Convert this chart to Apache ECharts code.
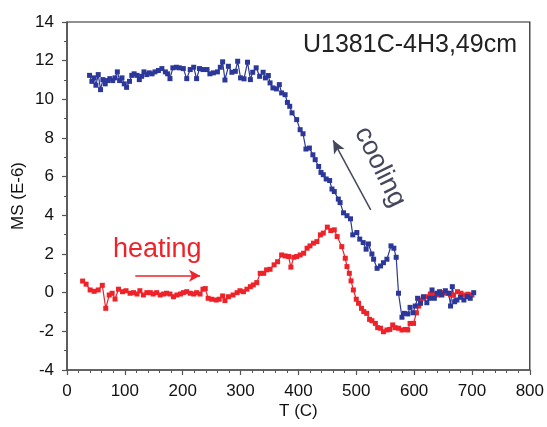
<!DOCTYPE html>
<html>
<head>
<meta charset="utf-8">
<script src="https://cdn.jsdelivr.net/npm/echarts@6/dist/echarts.min.js"></script>
<style>
  html, body { margin: 0; padding: 0; background: #fff; }
  #main { width: 547px; height: 427px; }
</style>
</head>
<body>
<div id="main"></div>
<script>
// heating curve [T (C), MS (E-6)]
var heating = [
  [27,0.6],[33,0.44],[40,0.14],[47,0.07],[54,0.14],[61,0.38],[67,-0.81],[73,-0.12],[78,-0.03],[83,-0.33],
  [89,0.18],[96,0.05],[102,0.1],[109,-0.03],[115,0],[121,-0.07],[126,0.1],[132,-0.12],[138,0],[144,0],
  [149,-0.07],[155,0],[161,-0.12],[167,-0.07],[172,-0.03],[178,-0.07],[184,-0.21],[190,-0.12],[196,-0.07],[201,0],
  [207,0.05],[213,-0.03],[219,-0.07],[224,0],[230,-0.07],[235,0.18],[239,0.21],[244,-0.29],[250,-0.34],[258,-0.38],
  [263,-0.34],[269,-0.17],[273,-0.41],[279,-0.21],[287,-0.12],[294,0],[299,0.1],[305,0.05],[311,0.18],[317,0.31],
  [322,0.4],[328,0.52],[334,1.0],[340,1.0],[345,1.18],[351,1.21],[358,1.44],[364,1.6],[371,1.95],[377,1.9],
  [383,1.87],[387,1.32],[392,1.83],[397,1.87],[403,1.95],[409,2.04],[415,2.3],[420,2.42],[426,2.56],[432,2.64],
  [438,2.99],[443,3.08],[450,3.39],[456,3.21],[462,3.25],[467,2.9],[475,2.38],[481,1.78],[484,1.35],[488,1.0],
  [491,0.61],[495,0.14],[500,-0.34],[504,-0.55],[509,-0.81],[513,-0.98],[518,-1.07],[523,-1.38],[527,-1.45],[533,-1.59],
  [537,-1.81],[542,-1.84],[547,-2.02],[553,-1.93],[558,-1.9],[563,-1.67],[567,-1.81],[573,-1.84],[579,-1.93],[585,-1.9],
  [589,-1.93],[593,-1.59],[599,-1.59],[604,-1.04],[608,-0.69],[611,-0.38],[616,-0.29],[623,-0.21],[628,-0.07],[635,-0.07],
  [641,-0.12],[645,-0.03],[651,0],[657,-0.03],[663,-0.12],[668,-0.12],[675,0.05],[681,-0.03],[687,-0.12],[693,-0.08],
  [700,-0.12]
];

// cooling curve [T (C), MS (E-6)]
var cooling = [
  [703,0],[697,-0.29],[692,-0.21],[686,-0.38],[680,-0.24],[674,-0.38],[670,-0.47],[666,0.31],[663,-0.69],[660,-0.03],
  [654,0.1],[648,-0.12],[644,0.05],[640,-0.03],[635,-0.29],[631,0.14],[627,-0.29],[622,-0.52],[616,-0.21],[611,-0.55],
  [606,-0.29],[602,-0.69],[598,-1.04],[593,-0.76],[589,-1.1],[583,-1.07],[579,-1.27],[573,-0.03],[569,1.83],[565,2.3],
  [560,2.42],[553,1.73],[547,1.55],[542,1.38],[536,1.26],[530,1.73],[527,2.0],[521,2.52],[517,2.25],[512,2.59],
  [506,2.77],[501,3.11],[494,2.99],[490,3.82],[484,3.98],[478,4.13],[472,4.66],[469,4.84],[462,5.23],[458,5.36],
  [454,5.8],[448,5.88],[443,6.1],[439,6.22],[435,6.53],[429,6.88],[425,7.13],[419,7.48],[413,7.43],[408,8.22],
  [403,8.43],[397,8.95],[389,9.3],[385,9.64],[381,9.84],[377,10.24],[371,10.33],[367,10.76],[362,10.54],[356,10.59],
  [351,10.85],[348,11.23],[343,11.11],[339,11.4],[333,11.19],[327,11.63],[321,11.4],[317,11.02],[312,11.92],[306,11.06],
  [300,11.11],[295,11.97],[291,11.45],[285,11.4],[279,11.71],[273,11.0],[269,11.94],[265,11.66],[260,11.42],[253,11.37],
  [247,11.32],[242,11.54],[235,11.54],[229,11.59],[224,11.07],[219,11.66],[213,11.54],[207,11.07],[201,11.59],[194,11.63],
  [189,11.66],[183,11.63],[178,11.07],[174,11.32],[170,11.42],[164,11.59],[158,11.49],[152,11.42],[147,11.32],[142,11.37],
  [138,11.28],[133,11.42],[129,11.19],[125,11.02],[121,11.24],[116,11.32],[112,11.24],[108,10.93],[103,10.62],[99,10.8],
  [95,11.11],[91,10.97],[87,11.42],[83,11.11],[79,10.97],[74,11.07],[70,10.97],[66,10.8],[62,11.02],[58,10.5],
  [54,11.28],[50,10.73],[47,11.11],[43,10.93],[39,11.24]
];

// arrows, in data units
var heatArrow = [[118, 0.88], [230, 0.88]];
var coolArrow = [[525, 4.28], [460, 7.88]];

var RED = '#ee2229';
var BLUE = '#2b3799';
var FONT = '"Liberation Sans", Arial, sans-serif';

var chart = echarts.init(document.getElementById('main'));

chart.setOption({
  animation: false,
  backgroundColor: '#fff',
  grid: {
    left: 67, right: 17, top: 22, bottom: 57,
    show: true, borderColor: '#222', borderWidth: 1.2, backgroundColor: 'transparent'
  },
  xAxis: {
    type: 'value',
    min: 0, max: 800, interval: 100,
    name: 'T (C)',
    nameLocation: 'middle',
    nameGap: 33,
    nameMoveOverlap: false,
    nameTextStyle: { fontFamily: FONT, fontSize: 17, color: '#111' },
    axisLine: { onZero: false, lineStyle: { color: '#555', width: 1.5 } },
    axisTick: { inside: false, length: 5, lineStyle: { color: '#555', width: 1.2 } },
    minorTick: { show: true, splitNumber: 5, length: 3, lineStyle: { color: '#555', width: 1 } },
    axisLabel: { fontFamily: FONT, fontSize: 17, color: '#111', margin: 13 },
    splitLine: { show: false }
  },
  yAxis: {
    type: 'value',
    min: -4, max: 14, interval: 2,
    name: 'MS (E-6)',
    nameLocation: 'middle',
    nameGap: 40,
    nameMoveOverlap: false,
    nameRotate: 90,
    nameTextStyle: { fontFamily: FONT, fontSize: 17, color: '#111' },
    axisLine: { onZero: false, lineStyle: { color: '#555', width: 1.5 } },
    axisTick: { inside: false, length: 5, lineStyle: { color: '#555', width: 1.2 } },
    minorTick: { show: true, splitNumber: 2, length: 3, lineStyle: { color: '#555', width: 1 } },
    axisLabel: { fontFamily: FONT, fontSize: 17, color: '#111', margin: 13 },
    splitLine: { show: false }
  },
  series: [
    {
      name: 'heating',
      type: 'line',
      data: heating,
      symbol: 'rect',
      symbolSize: 5,
      itemStyle: { color: RED },
      lineStyle: { color: RED, width: 1.2 },
      markLine: {
        silent: true,
        symbol: ['none', 'arrow'],
        symbolSize: [9, 11],
        label: { show: false },
        lineStyle: { color: RED, width: 1.5, type: 'solid' },
        data: [[{ coord: heatArrow[0] }, { coord: heatArrow[1] }]]
      }
    },
    {
      name: 'cooling',
      type: 'line',
      data: cooling,
      symbol: 'rect',
      symbolSize: 5,
      itemStyle: { color: BLUE },
      lineStyle: { color: BLUE, width: 1.2 },
      markLine: {
        silent: true,
        symbol: ['none', 'arrow'],
        symbolSize: [9, 13],
        label: { show: false },
        lineStyle: { color: '#45475c', width: 1.5, type: 'solid' },
        data: [[{ coord: coolArrow[0] }, { coord: coolArrow[1] }]]
      }
    }
  ],
  graphic: [
    {
      type: 'text', left: 303, top: 33,
      style: { text: 'U1381C-4H3,49cm', font: '25px ' + FONT, fill: '#222' }
    },
    {
      type: 'text', left: 113, top: 236,
      style: { text: 'heating', font: '27px ' + FONT, fill: RED }
    },
    {
      type: 'text', x: 380, y: 167, rotation: -64 * Math.PI / 180,
      style: { text: 'cooling', font: '27px ' + FONT, fill: '#45475c', align: 'center', verticalAlign: 'middle' }
    }
  ]
});
</script>
</body>
</html>
